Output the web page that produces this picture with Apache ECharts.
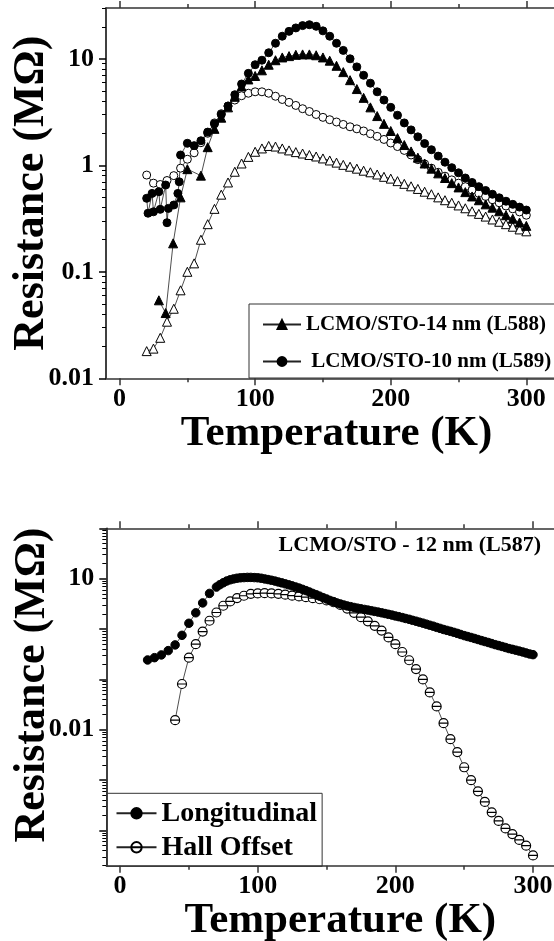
<!DOCTYPE html>
<html>
<head>
<meta charset="utf-8">
<script src="https://cdn.jsdelivr.net/npm/echarts@6/dist/echarts.min.js"></script>
<style>
  html, body { margin: 0; padding: 0; background: #fff; }
  #chart { width: 554px; height: 941px; }
</style>
</head>
<body>
<div id="chart"></div>
<script>
// --- top panel: L588 / L589 ---
const tempTop = [20, 25, 30, 35, 40, 45, 50, 55, 60, 65, 70, 75, 80, 85, 90, 95, 100, 105, 110, 115,
  120, 125, 130, 135, 140, 145, 150, 155, 160, 165, 170, 175, 180, 185, 190, 195, 200, 205, 210, 215,
  220, 225, 230, 235, 240, 245, 250, 255, 260, 265, 270, 275, 280, 285, 290, 295, 300];

const l588OpenR = [0.018, 0.019, 0.024, 0.034, 0.045, 0.067, 0.10, 0.12, 0.20, 0.28, 0.39, 0.53, 0.69, 0.87,
  1.04, 1.2, 1.34, 1.44, 1.52, 1.5, 1.44, 1.38, 1.33, 1.29, 1.25, 1.21, 1.16, 1.11, 1.06, 1.01, 0.97,
  0.93, 0.89, 0.86, 0.82, 0.78, 0.75, 0.71, 0.67, 0.635, 0.6, 0.565, 0.535, 0.5, 0.47, 0.445, 0.42,
  0.395, 0.37, 0.35, 0.33, 0.31, 0.295, 0.28, 0.265, 0.25, 0.24];

const l589OpenR = [0.81, 0.68, 0.66, 0.72, 0.80, 0.94, 1.14, 1.31, 1.63, 2.0, 2.5, 3.05, 3.6, 4.1, 4.5,
  4.75, 4.9, 4.9, 4.75, 4.45, 4.15, 3.9, 3.65, 3.4, 3.2, 3.0, 2.82, 2.68, 2.55, 2.42, 2.3, 2.2, 2.1,
  1.98, 1.87, 1.75, 1.62, 1.5, 1.38, 1.25, 1.13, 1.03, 0.94, 0.86, 0.79, 0.73, 0.68, 0.63, 0.585,
  0.545, 0.51, 0.475, 0.445, 0.415, 0.39, 0.365, 0.34];

const l588T = [29, 34, 39.5, 45, 50, 60, 65, 70, 75, 80, 85, 90, 95, 100, 105, 110, 115, 120, 125, 130,
  135, 140, 145, 150, 155, 160, 165, 170, 175, 180, 185, 190, 195, 200, 205, 210, 215, 220, 225, 230,
  235, 240, 245, 250, 255, 260, 265, 270, 275, 280, 285, 290, 295, 300];
const l588R = [0.054, 0.041, 0.185, 0.50, 0.92, 0.80, 1.48, 2.2, 2.8, 3.5, 4.4, 5.5, 6.4, 6.9, 7.8, 8.8,
  9.7, 10.3, 10.6, 10.9, 11.0, 11.0, 10.8, 10.3, 9.6, 8.6, 7.5, 6.3, 5.2, 4.3, 3.5, 2.9, 2.45, 2.1,
  1.8, 1.55, 1.35, 1.18, 1.04, 0.93, 0.84, 0.76, 0.68, 0.62, 0.56, 0.51, 0.47, 0.43, 0.40, 0.37,
  0.34, 0.315, 0.29, 0.27];

const l589T = [20, 21, 24, 25, 29, 30, 34, 35, 36, 40, 43, 44, 45, 50, 55, 60, 65, 70, 75, 80, 85, 90,
  95, 100, 105, 110, 115, 120, 125, 130, 135, 140, 145, 150, 155, 160, 165, 170, 175, 180, 185, 190,
  195, 200, 205, 210, 215, 220, 225, 230, 235, 240, 245, 250, 255, 260, 265, 270, 275, 280, 285, 290,
  295, 300];
const l589R = [0.49, 0.355, 0.545, 0.366, 0.565, 0.386, 0.653, 0.289, 0.394, 0.424, 0.545, 0.70, 1.25,
  1.61, 1.53, 1.7, 2.05, 2.45, 3.0, 3.6, 4.6, 5.8, 7.3, 8.8, 9.7, 11.4, 14, 16.3, 18.1, 19.5, 20.5,
  20.9, 20.2, 18.3, 16.3, 14, 12, 10, 8.4, 7.0, 5.9, 4.9, 4.1, 3.5, 2.95, 2.5, 2.15, 1.85, 1.6, 1.4,
  1.22, 1.07, 0.95, 0.85, 0.76, 0.69, 0.63, 0.58, 0.535, 0.495, 0.46, 0.43, 0.405, 0.38];

// --- bottom panel: L587 ---
const longT = [20, 25, 30, 35, 40, 45, 50, 55, 60, 65, 70, 72.5, 75, 77.5, 80, 82.5, 85, 87.5, 90, 92.5,
  95, 97.5, 100, 102.5, 105, 107.5, 110, 112.5, 115, 117.5, 120, 122.5, 125, 127.5, 130, 132.5, 135,
  137.5, 140, 142.5, 145, 147.5, 150, 152.5, 155, 157.5, 160, 162.5, 165, 167.5, 170, 172.5, 175,
  177.5, 180, 182.5, 185, 187.5, 190, 192.5, 195, 197.5, 200, 202.5, 205, 207.5, 210, 212.5, 215,
  217.5, 220, 222.5, 225, 227.5, 230, 232.5, 235, 237.5, 240, 242.5, 245, 247.5, 250, 252.5, 255,
  257.5, 260, 262.5, 265, 267.5, 270, 272.5, 275, 277.5, 280, 282.5, 285, 287.5, 290, 292.5, 295,
  297.5, 300];
const longR = [0.243, 0.27, 0.306, 0.373, 0.484, 0.75, 1.3, 2.1, 3.3, 5.1, 6.8, 7.6, 8.3, 9.0, 9.5, 9.9,
  10.2, 10.4, 10.5, 10.6, 10.6, 10.5, 10.4, 10.2, 9.9, 9.6, 9.3, 8.95, 8.6, 8.25, 7.9, 7.55, 7.2, 6.85,
  6.5, 6.15, 5.8, 5.45, 5.1, 4.8, 4.5, 4.2, 3.95, 3.7, 3.5, 3.3, 3.15, 3.0, 2.88, 2.78, 2.68, 2.6,
  2.52, 2.45, 2.38, 2.31, 2.24, 2.17, 2.1, 2.03, 1.96, 1.89, 1.82, 1.76, 1.69, 1.62, 1.56, 1.49, 1.43,
  1.37, 1.31, 1.25, 1.19, 1.14, 1.08, 1.03, 0.98, 0.94, 0.9, 0.86, 0.82, 0.78, 0.74, 0.71, 0.68, 0.65,
  0.62, 0.59, 0.565, 0.54, 0.515, 0.49, 0.47, 0.45, 0.43, 0.41, 0.395, 0.38, 0.365, 0.35, 0.335,
  0.32, 0.31];

const hallT = [40, 45, 50, 55, 60, 65, 70, 75, 80, 85, 90, 95, 100, 105, 110, 115, 120, 125, 130, 135,
  140, 145, 150, 155, 160, 165, 170, 175, 180, 185, 190, 195, 200, 205, 210, 215, 220, 225, 230, 235,
  240, 245, 250, 255, 260, 265, 270, 275, 280, 285, 290, 295, 300];
const hallR = [0.0155, 0.081, 0.27, 0.5, 0.89, 1.46, 2.13, 2.9, 3.53, 4.12, 4.58, 5.0, 5.1, 5.15, 5.1,
  5.0, 4.8, 4.6, 4.45, 4.3, 4.1, 3.9, 3.7, 3.4, 3.0, 2.55, 2.1, 1.72, 1.42, 1.16, 0.93, 0.68, 0.5,
  0.35, 0.24, 0.16, 0.1, 0.055, 0.029, 0.0135, 0.0065, 0.0036, 0.0018, 0.001, 0.0006, 0.00037,
  0.00023, 0.000155, 0.00011, 0.000085, 0.000065, 0.00005, 0.000032];

// --- ticks ---
const xMajor = [0, 100, 200, 300];
const xMinor = [50, 150, 250];
const topYMajor = [0.01, 0.1, 1, 10];
const topYMinor = [0.02, 0.03, 0.04, 0.05, 0.06, 0.07, 0.08, 0.09, 0.2, 0.3, 0.4, 0.5, 0.6, 0.7, 0.8,
  0.9, 2, 3, 4, 5, 6, 7, 8, 9, 20, 30];
const botYMajor = [0.0001, 0.001, 0.01, 0.1, 1, 10, 100];
const botYLabels = [0.01, 10];
const botYMinor = [0.00002, 0.00003, 0.00004, 0.00005, 0.00006, 0.00007, 0.00008, 0.00009,
  0.0002, 0.0003, 0.0004, 0.0005, 0.0006, 0.0007, 0.0008, 0.0009,
  0.002, 0.003, 0.004, 0.005, 0.006, 0.007, 0.008, 0.009,
  0.02, 0.03, 0.04, 0.05, 0.06, 0.07, 0.08, 0.09, 0.2, 0.3, 0.4, 0.5, 0.6, 0.7, 0.8, 0.9,
  2, 3, 4, 5, 6, 7, 8, 9, 20, 30, 40, 50, 60, 70, 80, 90];

const FONT = '"Liberation Serif", "DejaVu Serif", serif';
const AXIS = '#333';
const HALL_SYMBOL = 'path://M0,10A10,10,0,1,1,20,10A10,10,0,1,1,0,10ZM0,10L20,10';

const pairs = (xs, ys) => xs.map((x, i) => [x, ys[i]]);
const boldText = (size) => ({ fontFamily: FONT, fontWeight: 'bold', fontSize: size, color: '#000' });
const fmtNum = (v) => String(+Number(v).toPrecision(6));

function xAxesFor(grid, max) {
  const base = { type: 'value', gridIndex: grid, min: -10, max: max, splitLine: { show: false } };
  const line = { onZero: false, lineStyle: { color: AXIS, width: 1.5 } };
  const noLine = { show: false, onZero: false };
  const tick = (vals, len) => ({ customValues: vals, length: len, lineStyle: { color: AXIS, width: 1.5 } });
  return [
    Object.assign({}, base, {
      position: 'bottom', axisLine: line, axisTick: tick(xMajor, 7),
      axisLabel: Object.assign({ customValues: xMajor, margin: 8 }, boldText(26)),
      name: 'Temperature (K)', nameLocation: 'middle', nameGap: 34, nameMoveOverlap: false,
      nameTextStyle: boldText(43),
    }),
    Object.assign({}, base, { position: 'bottom', axisLine: noLine, axisTick: tick(xMinor, 4), axisLabel: { show: false } }),
    Object.assign({}, base, { position: 'top', axisLine: line, axisTick: tick(xMajor, 7), axisLabel: { show: false } }),
    Object.assign({}, base, { position: 'top', axisLine: noLine, axisTick: tick(xMinor, 4), axisLabel: { show: false } }),
  ];
}

function yAxesFor(grid, min, max, major, labels, minor, namePad) {
  const base = { type: 'log', logBase: 10, gridIndex: grid, min: min, max: max, position: 'left', splitLine: { show: false } };
  return [
    Object.assign({}, base, {
      axisLine: { onZero: false, lineStyle: { color: '#000', width: 1.5 } },
      axisTick: { customValues: major, length: 7, lineStyle: { color: '#000', width: 1.5 } },
      axisLabel: Object.assign({ customValues: labels, margin: 12, formatter: fmtNum }, boldText(26)),
      name: 'Resistance (MΩ)', nameLocation: 'middle', nameGap: 52, nameMoveOverlap: false,
      nameTextStyle: Object.assign({ padding: namePad }, boldText(44)),
    }),
    Object.assign({}, base, {
      axisLine: { show: false, onZero: false },
      axisTick: { customValues: minor, length: 4, lineStyle: { color: '#000', width: 1 } },
      axisLabel: { show: false },
    }),
  ];
}

function lineSeries(name, xIdx, yIdx, data, symbol, size, filled, border) {
  return {
    name: name, type: 'line', xAxisIndex: xIdx, yAxisIndex: yIdx, data: data,
    symbol: symbol, symbolSize: size, showAllSymbol: true,
    itemStyle: { color: filled ? '#000' : '#fff', borderColor: '#000', borderWidth: border || 1 },
    lineStyle: { color: '#222', width: 0.8 },
    emphasis: { disabled: true },
  };
}

const chart = echarts.init(document.getElementById('chart'));
chart.setOption({
  animation: false,
  backgroundColor: '#fff',
  title: {
    text: 'LCMO/STO - 12 nm (L587)', right: 13, top: 534, padding: 0,
    textStyle: boldText(22),
  },
  grid: [
    { left: 106, top: 8, width: 461, height: 370.3, outerBoundsMode: 'none' },
    { left: 106.3, top: 528.3, width: 468, height: 337.4, outerBoundsMode: 'none' },
  ],
  xAxis: [].concat(xAxesFor(0, 330), xAxesFor(1, 330)),
  yAxis: [].concat(
    yAxesFor(0, 0.01, 30, topYMajor, topYMajor, topYMinor, 0),
    yAxesFor(1, 0.00002, 100, botYMajor, botYLabels, botYMinor, [0, 0, 0, 24])
  ),
  legend: [
    {
      data: ['LCMO/STO-14 nm (L588)', 'LCMO/STO-10 nm (L589)'],
      orient: 'vertical', left: 249, top: 304, padding: [10, 40, 6, 13],
      itemWidth: 38, itemHeight: 11, itemGap: 16, selectedMode: false,
      borderColor: '#333', borderWidth: 1,
      textStyle: boldText(21),
      formatter: (n) => (n.indexOf('L589') >= 0 ? ' ' + n : n),
    },
    {
      data: ['Longitudinal', 'Hall Offset'],
      orient: 'vertical', left: 106.5, top: 793.3, padding: [6, 5, 5, 9],
      itemWidth: 40, itemHeight: 13, itemGap: 6, selectedMode: false,
      borderColor: '#333', borderWidth: 1,
      textStyle: boldText(28),
    },
  ],
  series: [
    lineSeries('L588 open', 0, 0, pairs(tempTop, l588OpenR), 'triangle', 9, false),
    lineSeries('L589 open', 0, 0, pairs(tempTop, l589OpenR), 'circle', 8, false),
    lineSeries('LCMO/STO-14 nm (L588)', 0, 0, pairs(l588T, l588R), 'triangle', 9, true),
    lineSeries('LCMO/STO-10 nm (L589)', 0, 0, pairs(l589T, l589R), 'circle', 8, true),
    lineSeries('Hall Offset', 4, 2, pairs(hallT, hallR), HALL_SYMBOL, 9, false, 1.2),
    lineSeries('Longitudinal', 4, 2, pairs(longT, longR), 'circle', 8.5, true),
  ],
});
</script>
</body>
</html>
